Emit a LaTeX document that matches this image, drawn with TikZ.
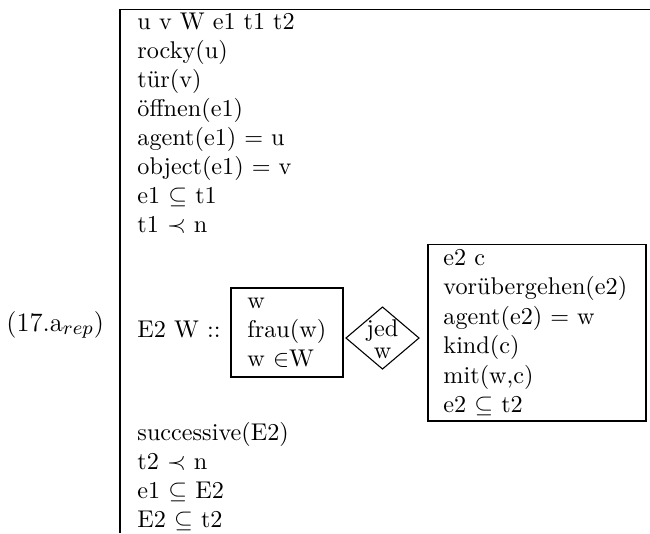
\documentclass[tikz,border=0pt]{standalone}
\begin{document}
\begin{tikzpicture}[x=0.41322pt,y=-0.41322pt,
  txt/.style={anchor=base west, inner sep=0pt},
  frame/.style={draw=black, line width=0.45pt}]
\useasboundingbox (0,0) rectangle (650,533);
% main DRS frame (open at right and bottom)
\draw[frame] (650,9.5) -- (120,9.5) -- (120,533);
% label
\node[txt, font=\fontsize{11}{13}\selectfont] (lab) at (6,331) {(17.a$_{rep}$)};
% top conditions
\node[txt] (l1) at (137,29) {u v W e1 t1 t2};
\node[txt] (l2) at (137,58) {rocky(u)};
\node[txt] (l3) at (137,87) {tür(v)};
\node[txt] (l4) at (137,116) {öffnen(e1)};
\node[txt] (l5) at (137,145) {agent(e1) $=$ u};
\node[txt] (l6) at (137,174) {object(e1) $=$ v};
\node[txt] (l7) at (137,203) {e1 $\subseteq$ t1};
\node[txt] (l8) at (137,232) {t1 $\prec$ n};
% duplex condition
\node[txt] (e2w) at (137,337) {E2 W ::};
\draw[frame] (231,288) rectangle (343,377);
\node[txt] (r1) at (247,308) {w};
\node[txt] (r2) at (247,337) {frau(w)};
\node[txt] (r3) at (247,366) {w $\in$W};
\draw[frame] (346,338) -- (382.5,307) -- (419,338) -- (382.5,369) -- cycle;
\node[anchor=base, inner sep=0pt] (q1) at (382.5,336) {jed};
\node[anchor=base, inner sep=0pt] (q2) at (382.5,358) {w};
\draw[frame] (428,244.5) rectangle (646,421);
\node[txt] (s1) at (443,265) {e2 c};
\node[txt] (s2) at (443,294.5) {vorübergehen(e2)};
\node[txt] (s3) at (443,324) {agent(e2) $=$ w};
\node[txt] (s4) at (443,353.5) {kind(c)};
\node[txt] (s5) at (443,383) {mit(w,c)};
\node[txt] (s6) at (443,412.5) {e2 $\subseteq$ t2};
% bottom conditions
\node[txt] (b1) at (137,440) {successive(E2)};
\node[txt] (b2) at (137,469) {t2 $\prec$ n};
\node[txt] (b3) at (137,498) {e1 $\subseteq$ E2};
\node[txt] (b4) at (137,527) {E2 $\subseteq$ t2};
\end{tikzpicture}
\end{document}
